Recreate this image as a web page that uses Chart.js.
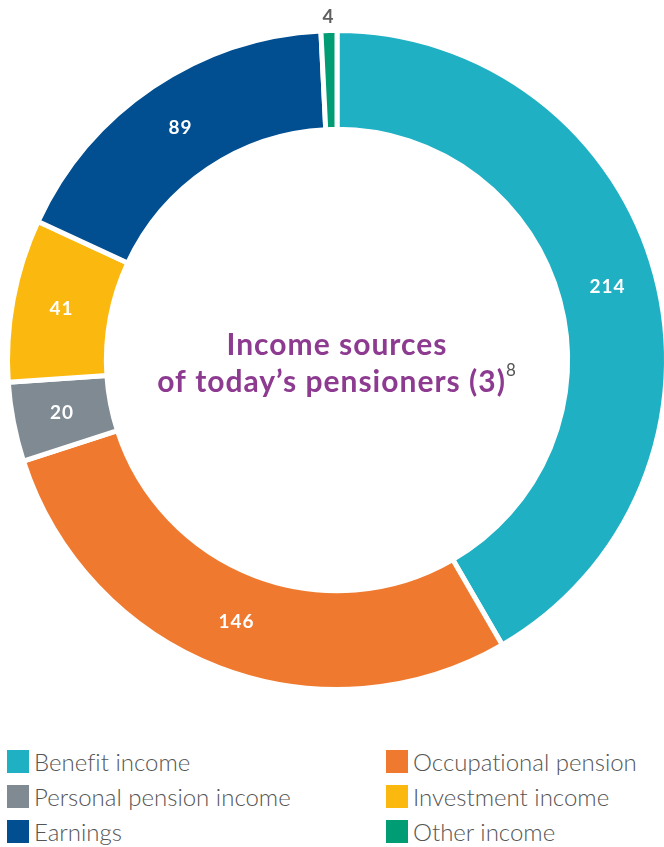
<!DOCTYPE html>
<html>
<head>
<meta charset="utf-8">
<script src="https://cdn.jsdelivr.net/npm/chart.js"></script>
<style>
  html, body { margin: 0; padding: 0; background: #fff; }
  body { width: 664px; height: 847px; position: relative; overflow: hidden; font-family: Lato, "Open Sans", sans-serif; }
  #chartBox { position: absolute; left: 0; top: 0; width: 674px; height: 705px; }
  #legend { position: absolute; left: 0; top: 749px; width: 664px; }
  .item { position: absolute; display: flex; align-items: center; height: 24px; }
  .swatch { width: 22px; height: 23px; margin-right: 5px; }
  .item span { font-size: 24px; font-weight: 300; color: #555; white-space: nowrap; font-variant-ligatures: none; }
</style>
</head>
<body>
<div id="chartBox"><canvas id="incomeChart"></canvas></div>
<div id="legend"></div>
<script>
  const categories = ['Benefit income', 'Occupational pension', 'Personal pension income', 'Investment income', 'Earnings', 'Other income'];
  const values = [214, 146, 20, 41, 89, 4];
  const colours = ['#1fb0c4', '#ef7a2f', '#7f8a93', '#fbb90f', '#014f91', '#009c74'];

  // Number labels on each slice, small slices get a grey label outside the ring
  const sliceLabels = {
    id: 'sliceLabels',
    afterDatasetsDraw(chart) {
      const ctx = chart.ctx;
      const meta = chart.getDatasetMeta(0);
      const total = values.reduce((a, b) => a + b, 0);
      ctx.save();
      ctx.textAlign = 'center';
      ctx.textBaseline = 'middle';
      ctx.font = 'bold 19px Lato, sans-serif';
      ctx.letterSpacing = '1px';
      meta.data.forEach((arc, i) => {
        const p = arc.getProps(['x', 'y', 'startAngle', 'endAngle', 'innerRadius', 'outerRadius'], true);
        const mid = (p.startAngle + p.endAngle) / 2;
        let r = (p.innerRadius + p.outerRadius) / 2;
        ctx.fillStyle = '#fff';
        if (values[i] / total < 0.02) {
          r = p.outerRadius + 14;
          ctx.fillStyle = '#5f5f5f';
        }
        ctx.fillText(values[i], p.x + Math.cos(mid) * r, p.y + Math.sin(mid) * r);
      });
      ctx.restore();
    }
  };

  // Title in the hole of the doughnut
  const centreTitle = {
    id: 'centreTitle',
    afterDraw(chart) {
      const ctx = chart.ctx;
      const arc = chart.getDatasetMeta(0).data[0];
      const cx = arc.x, cy = arc.y;
      const titleFont = 'bold 30px Lato, sans-serif';
      ctx.save();
      ctx.fillStyle = '#8d3b90';
      ctx.font = titleFont;
      ctx.letterSpacing = '1px';
      ctx.textAlign = 'center';
      ctx.textBaseline = 'alphabetic';
      ctx.fillText('Income sources', cx, cy - 5);
      const line2 = 'of today\u2019s pensioners (3)';
      const w2 = ctx.measureText(line2).width;
      ctx.font = '17px Lato, sans-serif';
      const wSup = ctx.measureText('8').width;
      const left = cx - (w2 + wSup) / 2;
      ctx.font = titleFont;
      ctx.textAlign = 'left';
      ctx.fillText(line2, left, cy + 32);
      ctx.font = '17px Lato, sans-serif';
      ctx.fillStyle = '#555';
      ctx.fillText('8', left + w2, cy + 16);
      ctx.restore();
    }
  };

  new Chart(document.getElementById('incomeChart'), {
    type: 'doughnut',
    data: {
      labels: categories,
      datasets: [{
        data: values,
        backgroundColor: colours,
        borderColor: '#fff',
        borderWidth: 5
      }]
    },
    options: {
      responsive: true,
      maintainAspectRatio: false,
      animation: false,
      events: [],
      cutout: '70%',
      layout: { padding: { left: 5, right: 5, top: 28, bottom: 13 } },
      plugins: {
        legend: { display: false },
        tooltip: { enabled: false }
      }
    },
    plugins: [sliceLabels, centreTitle]
  });

  // Two-column legend below the chart
  const legend = document.getElementById('legend');
  categories.forEach((name, i) => {
    const item = document.createElement('div');
    item.className = 'item';
    item.style.left = (i % 2 === 0 ? 7 : 386) + 'px';
    item.style.top = (Math.floor(i / 2) * 35) + 'px';
    item.innerHTML = '<div class="swatch" style="background:' + colours[i] + '"></div><span>' + name + '</span>';
    legend.appendChild(item);
  });
</script>
</body>
</html>
